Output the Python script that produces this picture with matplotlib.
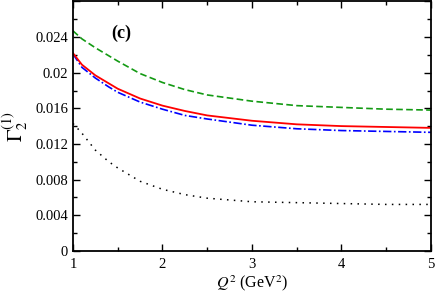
import matplotlib
matplotlib.use("Agg")
import matplotlib.pyplot as plt
from matplotlib.ticker import MultipleLocator, FuncFormatter

plt.rcParams['font.family'] = ['Liberation Serif', 'DejaVu Serif']
plt.rcParams['mathtext.fontset'] = 'stix'

# Q^2 (GeV^2) grid for the curves
q2 = [1.0, 1.1, 1.25, 1.4, 1.5, 1.75, 2.0, 2.25, 2.5, 3.0, 3.5, 4.0, 4.5, 5.0]

red_solid = [0.0222, 0.0209, 0.0197, 0.0188, 0.0182, 0.0171, 0.0163, 0.0157, 0.0152, 0.0146, 0.0142, 0.0140, 0.0139, 0.0138]
green_dash = [0.0247, 0.0238, 0.0228, 0.0219, 0.0213, 0.0199, 0.0189, 0.0181, 0.0175, 0.0168, 0.0163, 0.0161, 0.0159, 0.0158]
blue_dashdot = [0.0221, 0.0206, 0.0194, 0.0184, 0.0178, 0.0167, 0.0159, 0.0152, 0.0148, 0.0141, 0.0137, 0.0135, 0.0134, 0.0133]
black_dot = [0.0143, 0.0132, 0.0113, 0.0100, 0.0093, 0.0078, 0.0069, 0.0063, 0.0059, 0.0055, 0.0054, 0.0053, 0.0052, 0.0052]

fig = plt.figure(figsize=(4.36, 2.99), dpi=100)
ax = fig.add_axes([0.1674, 0.1615, 0.8211, 0.8335])

ax.plot(q2, green_dash, color='#139a13', lw=1.2, dashes=(4, 2))
ax.plot(q2, blue_dashdot, color='#0000ff', lw=1.2, dashes=(5, 1.5, 1, 1.5))
ax.plot(q2, black_dot, color='black', lw=1.1, linestyle=(0, (1, 3.5)))
ax.plot(q2, red_solid, color='#ff0000', lw=1.3)

ax.set_xlim(1, 5)
ax.set_ylim(0, 0.028)
ax.xaxis.set_major_locator(MultipleLocator(1))
ax.xaxis.set_minor_locator(MultipleLocator(0.5))
ax.yaxis.set_major_locator(MultipleLocator(0.004))
ax.yaxis.set_minor_locator(MultipleLocator(0.002))
ax.yaxis.set_major_formatter(FuncFormatter(lambda v, p: '' if v > 0.0255 else '%g' % round(v, 4)))

ax.tick_params(which='both', direction='in', top=True, right=True, labelsize=10.5, width=1.0)
ax.tick_params(which='major', length=5)
ax.tick_params(which='minor', length=3)
ax.tick_params(axis='x', pad=5)
for s in ax.spines.values():
    s.set_linewidth(1.3)

ax.text(1.54, 0.0244, '(c)', fontsize=13, fontweight='bold', ha='center', va='center')
ax.set_xlabel(r'$Q^2$ (GeV$^2$)', fontsize=11.5, labelpad=2)
ax.set_ylabel(r'$\Gamma_2^{(1)}$', fontsize=15, labelpad=4)

fig.savefig('out.png', dpi=100)
